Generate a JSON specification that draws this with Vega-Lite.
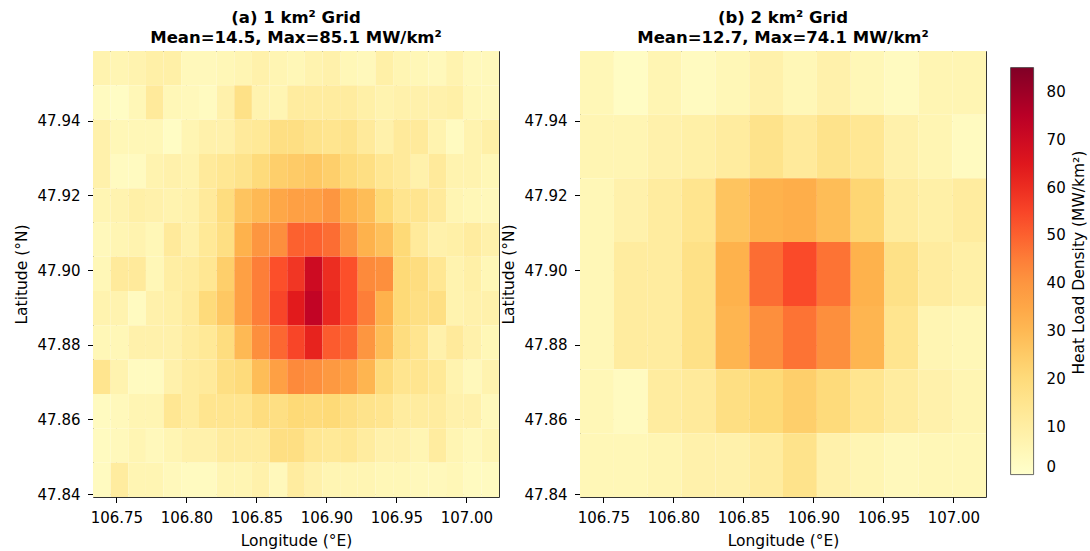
{
"$schema": "https://vega.github.io/schema/vega-lite/v6.json",
"background": "white",
"padding": {"left": 13, "top": 9, "right": 2, "bottom": 2},
"spacing": 0,
"hconcat": [
{
"width": 406, "height": 446,
"title": {"text": ["(a) 1 km² Grid", "Mean=14.5, Max=85.1 MW/km²"]},
"data": {"values": [
{"lon0":106.7333,"lon1":106.7459,"lat0":47.9495,"lat1":47.9587,"v":7},{"lon0":106.7459,"lon1":106.7585,"lat0":47.9495,"lat1":47.9587,"v":6},{"lon0":106.7585,"lon1":106.7711,"lat0":47.9495,"lat1":47.9587,"v":7},{"lon0":106.7711,"lon1":106.7837,"lat0":47.9495,"lat1":47.9587,"v":9},{"lon0":106.7837,"lon1":106.7963,"lat0":47.9495,"lat1":47.9587,"v":9},{"lon0":106.7963,"lon1":106.809,"lat0":47.9495,"lat1":47.9587,"v":4},{"lon0":106.809,"lon1":106.8216,"lat0":47.9495,"lat1":47.9587,"v":4},{"lon0":106.8216,"lon1":106.8342,"lat0":47.9495,"lat1":47.9587,"v":5},{"lon0":106.8342,"lon1":106.8468,"lat0":47.9495,"lat1":47.9587,"v":6},{"lon0":106.8468,"lon1":106.8594,"lat0":47.9495,"lat1":47.9587,"v":8},{"lon0":106.8594,"lon1":106.872,"lat0":47.9495,"lat1":47.9587,"v":6},{"lon0":106.872,"lon1":106.8846,"lat0":47.9495,"lat1":47.9587,"v":5},{"lon0":106.8846,"lon1":106.8972,"lat0":47.9495,"lat1":47.9587,"v":7},{"lon0":106.8972,"lon1":106.9098,"lat0":47.9495,"lat1":47.9587,"v":8},{"lon0":106.9098,"lon1":106.9224,"lat0":47.9495,"lat1":47.9587,"v":5},{"lon0":106.9224,"lon1":106.935,"lat0":47.9495,"lat1":47.9587,"v":4},{"lon0":106.935,"lon1":106.9477,"lat0":47.9495,"lat1":47.9587,"v":9},{"lon0":106.9477,"lon1":106.9603,"lat0":47.9495,"lat1":47.9587,"v":6},{"lon0":106.9603,"lon1":106.9729,"lat0":47.9495,"lat1":47.9587,"v":5},{"lon0":106.9729,"lon1":106.9855,"lat0":47.9495,"lat1":47.9587,"v":4},{"lon0":106.9855,"lon1":106.9981,"lat0":47.9495,"lat1":47.9587,"v":7},{"lon0":106.9981,"lon1":107.0107,"lat0":47.9495,"lat1":47.9587,"v":4},{"lon0":107.0107,"lon1":107.0233,"lat0":47.9495,"lat1":47.9587,"v":4},
{"lon0":106.7333,"lon1":106.7459,"lat0":47.9403,"lat1":47.9495,"v":3},{"lon0":106.7459,"lon1":106.7585,"lat0":47.9403,"lat1":47.9495,"v":2},{"lon0":106.7585,"lon1":106.7711,"lat0":47.9403,"lat1":47.9495,"v":5},{"lon0":106.7711,"lon1":106.7837,"lat0":47.9403,"lat1":47.9495,"v":12},{"lon0":106.7837,"lon1":106.7963,"lat0":47.9403,"lat1":47.9495,"v":5},{"lon0":106.7963,"lon1":106.809,"lat0":47.9403,"lat1":47.9495,"v":4},{"lon0":106.809,"lon1":106.8216,"lat0":47.9403,"lat1":47.9495,"v":3},{"lon0":106.8216,"lon1":106.8342,"lat0":47.9403,"lat1":47.9495,"v":8},{"lon0":106.8342,"lon1":106.8468,"lat0":47.9403,"lat1":47.9495,"v":17},{"lon0":106.8468,"lon1":106.8594,"lat0":47.9403,"lat1":47.9495,"v":7},{"lon0":106.8594,"lon1":106.872,"lat0":47.9403,"lat1":47.9495,"v":6},{"lon0":106.872,"lon1":106.8846,"lat0":47.9403,"lat1":47.9495,"v":11},{"lon0":106.8846,"lon1":106.8972,"lat0":47.9403,"lat1":47.9495,"v":11},{"lon0":106.8972,"lon1":106.9098,"lat0":47.9403,"lat1":47.9495,"v":11},{"lon0":106.9098,"lon1":106.9224,"lat0":47.9403,"lat1":47.9495,"v":11},{"lon0":106.9224,"lon1":106.935,"lat0":47.9403,"lat1":47.9495,"v":9},{"lon0":106.935,"lon1":106.9477,"lat0":47.9403,"lat1":47.9495,"v":7},{"lon0":106.9477,"lon1":106.9603,"lat0":47.9403,"lat1":47.9495,"v":8},{"lon0":106.9603,"lon1":106.9729,"lat0":47.9403,"lat1":47.9495,"v":8},{"lon0":106.9729,"lon1":106.9855,"lat0":47.9403,"lat1":47.9495,"v":8},{"lon0":106.9855,"lon1":106.9981,"lat0":47.9403,"lat1":47.9495,"v":9},{"lon0":106.9981,"lon1":107.0107,"lat0":47.9403,"lat1":47.9495,"v":5},{"lon0":107.0107,"lon1":107.0233,"lat0":47.9403,"lat1":47.9495,"v":4},
{"lon0":106.7333,"lon1":106.7459,"lat0":47.9311,"lat1":47.9403,"v":8},{"lon0":106.7459,"lon1":106.7585,"lat0":47.9311,"lat1":47.9403,"v":5},{"lon0":106.7585,"lon1":106.7711,"lat0":47.9311,"lat1":47.9403,"v":5},{"lon0":106.7711,"lon1":106.7837,"lat0":47.9311,"lat1":47.9403,"v":5},{"lon0":106.7837,"lon1":106.7963,"lat0":47.9311,"lat1":47.9403,"v":2},{"lon0":106.7963,"lon1":106.809,"lat0":47.9311,"lat1":47.9403,"v":6},{"lon0":106.809,"lon1":106.8216,"lat0":47.9311,"lat1":47.9403,"v":8},{"lon0":106.8216,"lon1":106.8342,"lat0":47.9311,"lat1":47.9403,"v":8},{"lon0":106.8342,"lon1":106.8468,"lat0":47.9311,"lat1":47.9403,"v":12},{"lon0":106.8468,"lon1":106.8594,"lat0":47.9311,"lat1":47.9403,"v":13},{"lon0":106.8594,"lon1":106.872,"lat0":47.9311,"lat1":47.9403,"v":18},{"lon0":106.872,"lon1":106.8846,"lat0":47.9311,"lat1":47.9403,"v":18},{"lon0":106.8846,"lon1":106.8972,"lat0":47.9311,"lat1":47.9403,"v":16},{"lon0":106.8972,"lon1":106.9098,"lat0":47.9311,"lat1":47.9403,"v":15},{"lon0":106.9098,"lon1":106.9224,"lat0":47.9311,"lat1":47.9403,"v":16},{"lon0":106.9224,"lon1":106.935,"lat0":47.9311,"lat1":47.9403,"v":12},{"lon0":106.935,"lon1":106.9477,"lat0":47.9311,"lat1":47.9403,"v":8},{"lon0":106.9477,"lon1":106.9603,"lat0":47.9311,"lat1":47.9403,"v":12},{"lon0":106.9603,"lon1":106.9729,"lat0":47.9311,"lat1":47.9403,"v":12},{"lon0":106.9729,"lon1":106.9855,"lat0":47.9311,"lat1":47.9403,"v":7},{"lon0":106.9855,"lon1":106.9981,"lat0":47.9311,"lat1":47.9403,"v":3},{"lon0":106.9981,"lon1":107.0107,"lat0":47.9311,"lat1":47.9403,"v":7},{"lon0":107.0107,"lon1":107.0233,"lat0":47.9311,"lat1":47.9403,"v":9},
{"lon0":106.7333,"lon1":106.7459,"lat0":47.9219,"lat1":47.9311,"v":8},{"lon0":106.7459,"lon1":106.7585,"lat0":47.9219,"lat1":47.9311,"v":3},{"lon0":106.7585,"lon1":106.7711,"lat0":47.9219,"lat1":47.9311,"v":3},{"lon0":106.7711,"lon1":106.7837,"lat0":47.9219,"lat1":47.9311,"v":7},{"lon0":106.7837,"lon1":106.7963,"lat0":47.9219,"lat1":47.9311,"v":8},{"lon0":106.7963,"lon1":106.809,"lat0":47.9219,"lat1":47.9311,"v":7},{"lon0":106.809,"lon1":106.8216,"lat0":47.9219,"lat1":47.9311,"v":12},{"lon0":106.8216,"lon1":106.8342,"lat0":47.9219,"lat1":47.9311,"v":14},{"lon0":106.8342,"lon1":106.8468,"lat0":47.9219,"lat1":47.9311,"v":16},{"lon0":106.8468,"lon1":106.8594,"lat0":47.9219,"lat1":47.9311,"v":20},{"lon0":106.8594,"lon1":106.872,"lat0":47.9219,"lat1":47.9311,"v":24},{"lon0":106.872,"lon1":106.8846,"lat0":47.9219,"lat1":47.9311,"v":25},{"lon0":106.8846,"lon1":106.8972,"lat0":47.9219,"lat1":47.9311,"v":26},{"lon0":106.8972,"lon1":106.9098,"lat0":47.9219,"lat1":47.9311,"v":24},{"lon0":106.9098,"lon1":106.9224,"lat0":47.9219,"lat1":47.9311,"v":20},{"lon0":106.9224,"lon1":106.935,"lat0":47.9219,"lat1":47.9311,"v":18},{"lon0":106.935,"lon1":106.9477,"lat0":47.9219,"lat1":47.9311,"v":14},{"lon0":106.9477,"lon1":106.9603,"lat0":47.9219,"lat1":47.9311,"v":12},{"lon0":106.9603,"lon1":106.9729,"lat0":47.9219,"lat1":47.9311,"v":8},{"lon0":106.9729,"lon1":106.9855,"lat0":47.9219,"lat1":47.9311,"v":12},{"lon0":106.9855,"lon1":106.9981,"lat0":47.9219,"lat1":47.9311,"v":7},{"lon0":106.9981,"lon1":107.0107,"lat0":47.9219,"lat1":47.9311,"v":7},{"lon0":107.0107,"lon1":107.0233,"lat0":47.9219,"lat1":47.9311,"v":5},
{"lon0":106.7333,"lon1":106.7459,"lat0":47.9127,"lat1":47.9219,"v":6},{"lon0":106.7459,"lon1":106.7585,"lat0":47.9127,"lat1":47.9219,"v":7},{"lon0":106.7585,"lon1":106.7711,"lat0":47.9127,"lat1":47.9219,"v":9},{"lon0":106.7711,"lon1":106.7837,"lat0":47.9127,"lat1":47.9219,"v":8},{"lon0":106.7837,"lon1":106.7963,"lat0":47.9127,"lat1":47.9219,"v":7},{"lon0":106.7963,"lon1":106.809,"lat0":47.9127,"lat1":47.9219,"v":8},{"lon0":106.809,"lon1":106.8216,"lat0":47.9127,"lat1":47.9219,"v":12},{"lon0":106.8216,"lon1":106.8342,"lat0":47.9127,"lat1":47.9219,"v":19},{"lon0":106.8342,"lon1":106.8468,"lat0":47.9127,"lat1":47.9219,"v":27},{"lon0":106.8468,"lon1":106.8594,"lat0":47.9127,"lat1":47.9219,"v":30},{"lon0":106.8594,"lon1":106.872,"lat0":47.9127,"lat1":47.9219,"v":35},{"lon0":106.872,"lon1":106.8846,"lat0":47.9127,"lat1":47.9219,"v":37},{"lon0":106.8846,"lon1":106.8972,"lat0":47.9127,"lat1":47.9219,"v":37},{"lon0":106.8972,"lon1":106.9098,"lat0":47.9127,"lat1":47.9219,"v":40},{"lon0":106.9098,"lon1":106.9224,"lat0":47.9127,"lat1":47.9219,"v":32},{"lon0":106.9224,"lon1":106.935,"lat0":47.9127,"lat1":47.9219,"v":29},{"lon0":106.935,"lon1":106.9477,"lat0":47.9127,"lat1":47.9219,"v":21},{"lon0":106.9477,"lon1":106.9603,"lat0":47.9127,"lat1":47.9219,"v":15},{"lon0":106.9603,"lon1":106.9729,"lat0":47.9127,"lat1":47.9219,"v":15},{"lon0":106.9729,"lon1":106.9855,"lat0":47.9127,"lat1":47.9219,"v":12},{"lon0":106.9855,"lon1":106.9981,"lat0":47.9127,"lat1":47.9219,"v":6},{"lon0":106.9981,"lon1":107.0107,"lat0":47.9127,"lat1":47.9219,"v":5},{"lon0":107.0107,"lon1":107.0233,"lat0":47.9127,"lat1":47.9219,"v":4},
{"lon0":106.7333,"lon1":106.7459,"lat0":47.9036,"lat1":47.9127,"v":4},{"lon0":106.7459,"lon1":106.7585,"lat0":47.9036,"lat1":47.9127,"v":6},{"lon0":106.7585,"lon1":106.7711,"lat0":47.9036,"lat1":47.9127,"v":7},{"lon0":106.7711,"lon1":106.7837,"lat0":47.9036,"lat1":47.9127,"v":5},{"lon0":106.7837,"lon1":106.7963,"lat0":47.9036,"lat1":47.9127,"v":12},{"lon0":106.7963,"lon1":106.809,"lat0":47.9036,"lat1":47.9127,"v":8},{"lon0":106.809,"lon1":106.8216,"lat0":47.9036,"lat1":47.9127,"v":13},{"lon0":106.8216,"lon1":106.8342,"lat0":47.9036,"lat1":47.9127,"v":18},{"lon0":106.8342,"lon1":106.8468,"lat0":47.9036,"lat1":47.9127,"v":32},{"lon0":106.8468,"lon1":106.8594,"lat0":47.9036,"lat1":47.9127,"v":40},{"lon0":106.8594,"lon1":106.872,"lat0":47.9036,"lat1":47.9127,"v":42},{"lon0":106.872,"lon1":106.8846,"lat0":47.9036,"lat1":47.9127,"v":50},{"lon0":106.8846,"lon1":106.8972,"lat0":47.9036,"lat1":47.9127,"v":50},{"lon0":106.8972,"lon1":106.9098,"lat0":47.9036,"lat1":47.9127,"v":48},{"lon0":106.9098,"lon1":106.9224,"lat0":47.9036,"lat1":47.9127,"v":40},{"lon0":106.9224,"lon1":106.935,"lat0":47.9036,"lat1":47.9127,"v":32},{"lon0":106.935,"lon1":106.9477,"lat0":47.9036,"lat1":47.9127,"v":28},{"lon0":106.9477,"lon1":106.9603,"lat0":47.9036,"lat1":47.9127,"v":21},{"lon0":106.9603,"lon1":106.9729,"lat0":47.9036,"lat1":47.9127,"v":12},{"lon0":106.9729,"lon1":106.9855,"lat0":47.9036,"lat1":47.9127,"v":8},{"lon0":106.9855,"lon1":106.9981,"lat0":47.9036,"lat1":47.9127,"v":9},{"lon0":106.9981,"lon1":107.0107,"lat0":47.9036,"lat1":47.9127,"v":11},{"lon0":107.0107,"lon1":107.0233,"lat0":47.9036,"lat1":47.9127,"v":8},
{"lon0":106.7333,"lon1":106.7459,"lat0":47.8944,"lat1":47.9036,"v":5},{"lon0":106.7459,"lon1":106.7585,"lat0":47.8944,"lat1":47.9036,"v":12},{"lon0":106.7585,"lon1":106.7711,"lat0":47.8944,"lat1":47.9036,"v":12},{"lon0":106.7711,"lon1":106.7837,"lat0":47.8944,"lat1":47.9036,"v":5},{"lon0":106.7837,"lon1":106.7963,"lat0":47.8944,"lat1":47.9036,"v":10},{"lon0":106.7963,"lon1":106.809,"lat0":47.8944,"lat1":47.9036,"v":11},{"lon0":106.809,"lon1":106.8216,"lat0":47.8944,"lat1":47.9036,"v":14},{"lon0":106.8216,"lon1":106.8342,"lat0":47.8944,"lat1":47.9036,"v":24},{"lon0":106.8342,"lon1":106.8468,"lat0":47.8944,"lat1":47.9036,"v":37},{"lon0":106.8468,"lon1":106.8594,"lat0":47.8944,"lat1":47.9036,"v":45},{"lon0":106.8594,"lon1":106.872,"lat0":47.8944,"lat1":47.9036,"v":53},{"lon0":106.872,"lon1":106.8846,"lat0":47.8944,"lat1":47.9036,"v":58},{"lon0":106.8846,"lon1":106.8972,"lat0":47.8944,"lat1":47.9036,"v":70},{"lon0":106.8972,"lon1":106.9098,"lat0":47.8944,"lat1":47.9036,"v":60},{"lon0":106.9098,"lon1":106.9224,"lat0":47.8944,"lat1":47.9036,"v":53},{"lon0":106.9224,"lon1":106.935,"lat0":47.8944,"lat1":47.9036,"v":43},{"lon0":106.935,"lon1":106.9477,"lat0":47.8944,"lat1":47.9036,"v":42},{"lon0":106.9477,"lon1":106.9603,"lat0":47.8944,"lat1":47.9036,"v":21},{"lon0":106.9603,"lon1":106.9729,"lat0":47.8944,"lat1":47.9036,"v":19},{"lon0":106.9729,"lon1":106.9855,"lat0":47.8944,"lat1":47.9036,"v":14},{"lon0":106.9855,"lon1":106.9981,"lat0":47.8944,"lat1":47.9036,"v":7},{"lon0":106.9981,"lon1":107.0107,"lat0":47.8944,"lat1":47.9036,"v":9},{"lon0":107.0107,"lon1":107.0233,"lat0":47.8944,"lat1":47.9036,"v":5},
{"lon0":106.7333,"lon1":106.7459,"lat0":47.8852,"lat1":47.8944,"v":7},{"lon0":106.7459,"lon1":106.7585,"lat0":47.8852,"lat1":47.8944,"v":7},{"lon0":106.7585,"lon1":106.7711,"lat0":47.8852,"lat1":47.8944,"v":3},{"lon0":106.7711,"lon1":106.7837,"lat0":47.8852,"lat1":47.8944,"v":8},{"lon0":106.7837,"lon1":106.7963,"lat0":47.8852,"lat1":47.8944,"v":9},{"lon0":106.7963,"lon1":106.809,"lat0":47.8852,"lat1":47.8944,"v":12},{"lon0":106.809,"lon1":106.8216,"lat0":47.8852,"lat1":47.8944,"v":20},{"lon0":106.8216,"lon1":106.8342,"lat0":47.8852,"lat1":47.8944,"v":26},{"lon0":106.8342,"lon1":106.8468,"lat0":47.8852,"lat1":47.8944,"v":37},{"lon0":106.8468,"lon1":106.8594,"lat0":47.8852,"lat1":47.8944,"v":45},{"lon0":106.8594,"lon1":106.872,"lat0":47.8852,"lat1":47.8944,"v":55},{"lon0":106.872,"lon1":106.8846,"lat0":47.8852,"lat1":47.8944,"v":64},{"lon0":106.8846,"lon1":106.8972,"lat0":47.8852,"lat1":47.8944,"v":73},{"lon0":106.8972,"lon1":106.9098,"lat0":47.8852,"lat1":47.8944,"v":61},{"lon0":106.9098,"lon1":106.9224,"lat0":47.8852,"lat1":47.8944,"v":53},{"lon0":106.9224,"lon1":106.935,"lat0":47.8852,"lat1":47.8944,"v":45},{"lon0":106.935,"lon1":106.9477,"lat0":47.8852,"lat1":47.8944,"v":32},{"lon0":106.9477,"lon1":106.9603,"lat0":47.8852,"lat1":47.8944,"v":21},{"lon0":106.9603,"lon1":106.9729,"lat0":47.8852,"lat1":47.8944,"v":18},{"lon0":106.9729,"lon1":106.9855,"lat0":47.8852,"lat1":47.8944,"v":18},{"lon0":106.9855,"lon1":106.9981,"lat0":47.8852,"lat1":47.8944,"v":7},{"lon0":106.9981,"lon1":107.0107,"lat0":47.8852,"lat1":47.8944,"v":8},{"lon0":107.0107,"lon1":107.0233,"lat0":47.8852,"lat1":47.8944,"v":8},
{"lon0":106.7333,"lon1":106.7459,"lat0":47.876,"lat1":47.8852,"v":5},{"lon0":106.7459,"lon1":106.7585,"lat0":47.876,"lat1":47.8852,"v":5},{"lon0":106.7585,"lon1":106.7711,"lat0":47.876,"lat1":47.8852,"v":8},{"lon0":106.7711,"lon1":106.7837,"lat0":47.876,"lat1":47.8852,"v":8},{"lon0":106.7837,"lon1":106.7963,"lat0":47.876,"lat1":47.8852,"v":8},{"lon0":106.7963,"lon1":106.809,"lat0":47.876,"lat1":47.8852,"v":11},{"lon0":106.809,"lon1":106.8216,"lat0":47.876,"lat1":47.8852,"v":13},{"lon0":106.8216,"lon1":106.8342,"lat0":47.876,"lat1":47.8852,"v":19},{"lon0":106.8342,"lon1":106.8468,"lat0":47.876,"lat1":47.8852,"v":30},{"lon0":106.8468,"lon1":106.8594,"lat0":47.876,"lat1":47.8852,"v":42},{"lon0":106.8594,"lon1":106.872,"lat0":47.876,"lat1":47.8852,"v":49},{"lon0":106.872,"lon1":106.8846,"lat0":47.876,"lat1":47.8852,"v":55},{"lon0":106.8846,"lon1":106.8972,"lat0":47.876,"lat1":47.8852,"v":62},{"lon0":106.8972,"lon1":106.9098,"lat0":47.876,"lat1":47.8852,"v":51},{"lon0":106.9098,"lon1":106.9224,"lat0":47.876,"lat1":47.8852,"v":49},{"lon0":106.9224,"lon1":106.935,"lat0":47.876,"lat1":47.8852,"v":40},{"lon0":106.935,"lon1":106.9477,"lat0":47.876,"lat1":47.8852,"v":29},{"lon0":106.9477,"lon1":106.9603,"lat0":47.876,"lat1":47.8852,"v":19},{"lon0":106.9603,"lon1":106.9729,"lat0":47.876,"lat1":47.8852,"v":15},{"lon0":106.9729,"lon1":106.9855,"lat0":47.876,"lat1":47.8852,"v":8},{"lon0":106.9855,"lon1":106.9981,"lat0":47.876,"lat1":47.8852,"v":12},{"lon0":106.9981,"lon1":107.0107,"lat0":47.876,"lat1":47.8852,"v":8},{"lon0":107.0107,"lon1":107.0233,"lat0":47.876,"lat1":47.8852,"v":5},
{"lon0":106.7333,"lon1":106.7459,"lat0":47.8668,"lat1":47.876,"v":15},{"lon0":106.7459,"lon1":106.7585,"lat0":47.8668,"lat1":47.876,"v":7},{"lon0":106.7585,"lon1":106.7711,"lat0":47.8668,"lat1":47.876,"v":3},{"lon0":106.7711,"lon1":106.7837,"lat0":47.8668,"lat1":47.876,"v":3},{"lon0":106.7837,"lon1":106.7963,"lat0":47.8668,"lat1":47.876,"v":8},{"lon0":106.7963,"lon1":106.809,"lat0":47.8668,"lat1":47.876,"v":11},{"lon0":106.809,"lon1":106.8216,"lat0":47.8668,"lat1":47.876,"v":12},{"lon0":106.8216,"lon1":106.8342,"lat0":47.8668,"lat1":47.876,"v":18},{"lon0":106.8342,"lon1":106.8468,"lat0":47.8668,"lat1":47.876,"v":20},{"lon0":106.8468,"lon1":106.8594,"lat0":47.8668,"lat1":47.876,"v":29},{"lon0":106.8594,"lon1":106.872,"lat0":47.8668,"lat1":47.876,"v":37},{"lon0":106.872,"lon1":106.8846,"lat0":47.8668,"lat1":47.876,"v":43},{"lon0":106.8846,"lon1":106.8972,"lat0":47.8668,"lat1":47.876,"v":42},{"lon0":106.8972,"lon1":106.9098,"lat0":47.8668,"lat1":47.876,"v":39},{"lon0":106.9098,"lon1":106.9224,"lat0":47.8668,"lat1":47.876,"v":37},{"lon0":106.9224,"lon1":106.935,"lat0":47.8668,"lat1":47.876,"v":31},{"lon0":106.935,"lon1":106.9477,"lat0":47.8668,"lat1":47.876,"v":20},{"lon0":106.9477,"lon1":106.9603,"lat0":47.8668,"lat1":47.876,"v":15},{"lon0":106.9603,"lon1":106.9729,"lat0":47.8668,"lat1":47.876,"v":15},{"lon0":106.9729,"lon1":106.9855,"lat0":47.8668,"lat1":47.876,"v":13},{"lon0":106.9855,"lon1":106.9981,"lat0":47.8668,"lat1":47.876,"v":7},{"lon0":106.9981,"lon1":107.0107,"lat0":47.8668,"lat1":47.876,"v":4},{"lon0":107.0107,"lon1":107.0233,"lat0":47.8668,"lat1":47.876,"v":7},
{"lon0":106.7333,"lon1":106.7459,"lat0":47.8576,"lat1":47.8668,"v":3},{"lon0":106.7459,"lon1":106.7585,"lat0":47.8576,"lat1":47.8668,"v":4},{"lon0":106.7585,"lon1":106.7711,"lat0":47.8576,"lat1":47.8668,"v":6},{"lon0":106.7711,"lon1":106.7837,"lat0":47.8576,"lat1":47.8668,"v":6},{"lon0":106.7837,"lon1":106.7963,"lat0":47.8576,"lat1":47.8668,"v":14},{"lon0":106.7963,"lon1":106.809,"lat0":47.8576,"lat1":47.8668,"v":11},{"lon0":106.809,"lon1":106.8216,"lat0":47.8576,"lat1":47.8668,"v":15},{"lon0":106.8216,"lon1":106.8342,"lat0":47.8576,"lat1":47.8668,"v":15},{"lon0":106.8342,"lon1":106.8468,"lat0":47.8576,"lat1":47.8668,"v":15},{"lon0":106.8468,"lon1":106.8594,"lat0":47.8576,"lat1":47.8668,"v":19},{"lon0":106.8594,"lon1":106.872,"lat0":47.8576,"lat1":47.8668,"v":18},{"lon0":106.872,"lon1":106.8846,"lat0":47.8576,"lat1":47.8668,"v":21},{"lon0":106.8846,"lon1":106.8972,"lat0":47.8576,"lat1":47.8668,"v":20},{"lon0":106.8972,"lon1":106.9098,"lat0":47.8576,"lat1":47.8668,"v":21},{"lon0":106.9098,"lon1":106.9224,"lat0":47.8576,"lat1":47.8668,"v":18},{"lon0":106.9224,"lon1":106.935,"lat0":47.8576,"lat1":47.8668,"v":16},{"lon0":106.935,"lon1":106.9477,"lat0":47.8576,"lat1":47.8668,"v":15},{"lon0":106.9477,"lon1":106.9603,"lat0":47.8576,"lat1":47.8668,"v":11},{"lon0":106.9603,"lon1":106.9729,"lat0":47.8576,"lat1":47.8668,"v":11},{"lon0":106.9729,"lon1":106.9855,"lat0":47.8576,"lat1":47.8668,"v":11},{"lon0":106.9855,"lon1":106.9981,"lat0":47.8576,"lat1":47.8668,"v":8},{"lon0":106.9981,"lon1":107.0107,"lat0":47.8576,"lat1":47.8668,"v":8},{"lon0":107.0107,"lon1":107.0233,"lat0":47.8576,"lat1":47.8668,"v":4},
{"lon0":106.7333,"lon1":106.7459,"lat0":47.8484,"lat1":47.8576,"v":3},{"lon0":106.7459,"lon1":106.7585,"lat0":47.8484,"lat1":47.8576,"v":4},{"lon0":106.7585,"lon1":106.7711,"lat0":47.8484,"lat1":47.8576,"v":6},{"lon0":106.7711,"lon1":106.7837,"lat0":47.8484,"lat1":47.8576,"v":4},{"lon0":106.7837,"lon1":106.7963,"lat0":47.8484,"lat1":47.8576,"v":6},{"lon0":106.7963,"lon1":106.809,"lat0":47.8484,"lat1":47.8576,"v":8},{"lon0":106.809,"lon1":106.8216,"lat0":47.8484,"lat1":47.8576,"v":8},{"lon0":106.8216,"lon1":106.8342,"lat0":47.8484,"lat1":47.8576,"v":11},{"lon0":106.8342,"lon1":106.8468,"lat0":47.8484,"lat1":47.8576,"v":11},{"lon0":106.8468,"lon1":106.8594,"lat0":47.8484,"lat1":47.8576,"v":11},{"lon0":106.8594,"lon1":106.872,"lat0":47.8484,"lat1":47.8576,"v":18},{"lon0":106.872,"lon1":106.8846,"lat0":47.8484,"lat1":47.8576,"v":18},{"lon0":106.8846,"lon1":106.8972,"lat0":47.8484,"lat1":47.8576,"v":14},{"lon0":106.8972,"lon1":106.9098,"lat0":47.8484,"lat1":47.8576,"v":13},{"lon0":106.9098,"lon1":106.9224,"lat0":47.8484,"lat1":47.8576,"v":14},{"lon0":106.9224,"lon1":106.935,"lat0":47.8484,"lat1":47.8576,"v":11},{"lon0":106.935,"lon1":106.9477,"lat0":47.8484,"lat1":47.8576,"v":8},{"lon0":106.9477,"lon1":106.9603,"lat0":47.8484,"lat1":47.8576,"v":8},{"lon0":106.9603,"lon1":106.9729,"lat0":47.8484,"lat1":47.8576,"v":6},{"lon0":106.9729,"lon1":106.9855,"lat0":47.8484,"lat1":47.8576,"v":11},{"lon0":106.9855,"lon1":106.9981,"lat0":47.8484,"lat1":47.8576,"v":6},{"lon0":106.9981,"lon1":107.0107,"lat0":47.8484,"lat1":47.8576,"v":4},{"lon0":107.0107,"lon1":107.0233,"lat0":47.8484,"lat1":47.8576,"v":6},
{"lon0":106.7333,"lon1":106.7459,"lat0":47.8392,"lat1":47.8484,"v":3},{"lon0":106.7459,"lon1":106.7585,"lat0":47.8392,"lat1":47.8484,"v":11},{"lon0":106.7585,"lon1":106.7711,"lat0":47.8392,"lat1":47.8484,"v":6},{"lon0":106.7711,"lon1":106.7837,"lat0":47.8392,"lat1":47.8484,"v":6},{"lon0":106.7837,"lon1":106.7963,"lat0":47.8392,"lat1":47.8484,"v":4},{"lon0":106.7963,"lon1":106.809,"lat0":47.8392,"lat1":47.8484,"v":3},{"lon0":106.809,"lon1":106.8216,"lat0":47.8392,"lat1":47.8484,"v":3},{"lon0":106.8216,"lon1":106.8342,"lat0":47.8392,"lat1":47.8484,"v":6},{"lon0":106.8342,"lon1":106.8468,"lat0":47.8392,"lat1":47.8484,"v":6},{"lon0":106.8468,"lon1":106.8594,"lat0":47.8392,"lat1":47.8484,"v":8},{"lon0":106.8594,"lon1":106.872,"lat0":47.8392,"lat1":47.8484,"v":4},{"lon0":106.872,"lon1":106.8846,"lat0":47.8392,"lat1":47.8484,"v":11},{"lon0":106.8846,"lon1":106.8972,"lat0":47.8392,"lat1":47.8484,"v":8},{"lon0":106.8972,"lon1":106.9098,"lat0":47.8392,"lat1":47.8484,"v":6},{"lon0":106.9098,"lon1":106.9224,"lat0":47.8392,"lat1":47.8484,"v":6},{"lon0":106.9224,"lon1":106.935,"lat0":47.8392,"lat1":47.8484,"v":6},{"lon0":106.935,"lon1":106.9477,"lat0":47.8392,"lat1":47.8484,"v":5},{"lon0":106.9477,"lon1":106.9603,"lat0":47.8392,"lat1":47.8484,"v":5},{"lon0":106.9603,"lon1":106.9729,"lat0":47.8392,"lat1":47.8484,"v":4},{"lon0":106.9729,"lon1":106.9855,"lat0":47.8392,"lat1":47.8484,"v":4},{"lon0":106.9855,"lon1":106.9981,"lat0":47.8392,"lat1":47.8484,"v":5},{"lon0":106.9981,"lon1":107.0107,"lat0":47.8392,"lat1":47.8484,"v":3},{"lon0":107.0107,"lon1":107.0233,"lat0":47.8392,"lat1":47.8484,"v":3}
]},
"mark": {"type": "rect", "clip": true},
"encoding": {
"x": {"field": "lon0", "type": "quantitative", "scale": {"domain": [106.7333, 107.0233], "nice": false, "zero": false}, "axis": {"values": [106.75, 106.8, 106.85, 106.9, 106.95, 107.0], "format": ".2f", "title": "Longitude (°E)"}},
"x2": {"field": "lon1"},
"y": {"field": "lat0", "type": "quantitative", "scale": {"domain": [47.8392, 47.9587], "nice": false, "zero": false}, "axis": {"values": [47.84, 47.86, 47.88, 47.9, 47.92, 47.94], "format": ".2f", "title": "Latitude (°N)"}},
"y2": {"field": "lat1"},
"color": {"field": "v", "type": "quantitative", "scale": {"domain": [0, 10.6375, 21.275, 31.9125, 42.55, 53.1875, 63.825, 74.4625, 85.1], "range": ["#ffffcc", "#ffeda0", "#fed976", "#feb24c", "#fd8d3c", "#fc4e2a", "#e31a1c", "#bd0026", "#800026"], "interpolate": "rgb"}, "legend": {"type": "gradient", "direction": "vertical", "title": "Heat Load Density (MW/km²)", "values": [0, 10, 20, 30, 40, 50, 60, 70, 80], "labelOffset": 13, "labelBaseline": "middle", "encode": {"title": {"update": {"angle": {"value": 270}, "baseline": {"value": "top"}}}}}}
}
},
{
"width": 406, "height": 446,
"title": {"text": ["(b) 2 km² Grid", "Mean=12.7, Max=74.1 MW/km²"]},
"data": {"values": [
{"lon0":106.7333,"lon1":106.7575,"lat0":47.9416,"lat1":47.9587,"v":5},{"lon0":106.7575,"lon1":106.7817,"lat0":47.9416,"lat1":47.9587,"v":2},{"lon0":106.7817,"lon1":106.8058,"lat0":47.9416,"lat1":47.9587,"v":6},{"lon0":106.8058,"lon1":106.83,"lat0":47.9416,"lat1":47.9587,"v":3},{"lon0":106.83,"lon1":106.8542,"lat0":47.9416,"lat1":47.9587,"v":5},{"lon0":106.8542,"lon1":106.8783,"lat0":47.9416,"lat1":47.9587,"v":8},{"lon0":106.8783,"lon1":106.9025,"lat0":47.9416,"lat1":47.9587,"v":5},{"lon0":106.9025,"lon1":106.9267,"lat0":47.9416,"lat1":47.9587,"v":8},{"lon0":106.9267,"lon1":106.9508,"lat0":47.9416,"lat1":47.9587,"v":5},{"lon0":106.9508,"lon1":106.975,"lat0":47.9416,"lat1":47.9587,"v":3},{"lon0":106.975,"lon1":106.9992,"lat0":47.9416,"lat1":47.9587,"v":6},{"lon0":106.9992,"lon1":107.0233,"lat0":47.9416,"lat1":47.9587,"v":6},
{"lon0":106.7333,"lon1":106.7575,"lat0":47.9246,"lat1":47.9416,"v":6},{"lon0":106.7575,"lon1":106.7817,"lat0":47.9246,"lat1":47.9416,"v":6},{"lon0":106.7817,"lon1":106.8058,"lat0":47.9246,"lat1":47.9416,"v":8},{"lon0":106.8058,"lon1":106.83,"lat0":47.9246,"lat1":47.9416,"v":9},{"lon0":106.83,"lon1":106.8542,"lat0":47.9246,"lat1":47.9416,"v":11},{"lon0":106.8542,"lon1":106.8783,"lat0":47.9246,"lat1":47.9416,"v":16},{"lon0":106.8783,"lon1":106.9025,"lat0":47.9246,"lat1":47.9416,"v":12},{"lon0":106.9025,"lon1":106.9267,"lat0":47.9246,"lat1":47.9416,"v":16},{"lon0":106.9267,"lon1":106.9508,"lat0":47.9246,"lat1":47.9416,"v":14},{"lon0":106.9508,"lon1":106.975,"lat0":47.9246,"lat1":47.9416,"v":8},{"lon0":106.975,"lon1":106.9992,"lat0":47.9246,"lat1":47.9416,"v":6},{"lon0":106.9992,"lon1":107.0233,"lat0":47.9246,"lat1":47.9416,"v":3},
{"lon0":106.7333,"lon1":106.7575,"lat0":47.9075,"lat1":47.9246,"v":5},{"lon0":106.7575,"lon1":106.7817,"lat0":47.9075,"lat1":47.9246,"v":8},{"lon0":106.7817,"lon1":106.8058,"lat0":47.9075,"lat1":47.9246,"v":11},{"lon0":106.8058,"lon1":106.83,"lat0":47.9075,"lat1":47.9246,"v":15},{"lon0":106.83,"lon1":106.8542,"lat0":47.9075,"lat1":47.9246,"v":27},{"lon0":106.8542,"lon1":106.8783,"lat0":47.9075,"lat1":47.9246,"v":32},{"lon0":106.8783,"lon1":106.9025,"lat0":47.9075,"lat1":47.9246,"v":33},{"lon0":106.9025,"lon1":106.9267,"lat0":47.9075,"lat1":47.9246,"v":29},{"lon0":106.9267,"lon1":106.9508,"lat0":47.9075,"lat1":47.9246,"v":22},{"lon0":106.9508,"lon1":106.975,"lat0":47.9075,"lat1":47.9246,"v":11},{"lon0":106.975,"lon1":106.9992,"lat0":47.9075,"lat1":47.9246,"v":9},{"lon0":106.9992,"lon1":107.0233,"lat0":47.9075,"lat1":47.9246,"v":11},
{"lon0":106.7333,"lon1":106.7575,"lat0":47.8904,"lat1":47.9075,"v":5},{"lon0":106.7575,"lon1":106.7817,"lat0":47.8904,"lat1":47.9075,"v":11},{"lon0":106.7817,"lon1":106.8058,"lat0":47.8904,"lat1":47.9075,"v":11},{"lon0":106.8058,"lon1":106.83,"lat0":47.8904,"lat1":47.9075,"v":17},{"lon0":106.83,"lon1":106.8542,"lat0":47.8904,"lat1":47.9075,"v":32},{"lon0":106.8542,"lon1":106.8783,"lat0":47.8904,"lat1":47.9075,"v":48},{"lon0":106.8783,"lon1":106.9025,"lat0":47.8904,"lat1":47.9075,"v":54},{"lon0":106.9025,"lon1":106.9267,"lat0":47.8904,"lat1":47.9075,"v":47},{"lon0":106.9267,"lon1":106.9508,"lat0":47.8904,"lat1":47.9075,"v":32},{"lon0":106.9508,"lon1":106.975,"lat0":47.8904,"lat1":47.9075,"v":17},{"lon0":106.975,"lon1":106.9992,"lat0":47.8904,"lat1":47.9075,"v":11},{"lon0":106.9992,"lon1":107.0233,"lat0":47.8904,"lat1":47.9075,"v":9},
{"lon0":106.7333,"lon1":106.7575,"lat0":47.8734,"lat1":47.8904,"v":5},{"lon0":106.7575,"lon1":106.7817,"lat0":47.8734,"lat1":47.8904,"v":11},{"lon0":106.7817,"lon1":106.8058,"lat0":47.8734,"lat1":47.8904,"v":11},{"lon0":106.8058,"lon1":106.83,"lat0":47.8734,"lat1":47.8904,"v":17},{"lon0":106.83,"lon1":106.8542,"lat0":47.8734,"lat1":47.8904,"v":31},{"lon0":106.8542,"lon1":106.8783,"lat0":47.8734,"lat1":47.8904,"v":42},{"lon0":106.8783,"lon1":106.9025,"lat0":47.8734,"lat1":47.8904,"v":47},{"lon0":106.9025,"lon1":106.9267,"lat0":47.8734,"lat1":47.8904,"v":42},{"lon0":106.9267,"lon1":106.9508,"lat0":47.8734,"lat1":47.8904,"v":31},{"lon0":106.9508,"lon1":106.975,"lat0":47.8734,"lat1":47.8904,"v":15},{"lon0":106.975,"lon1":106.9992,"lat0":47.8734,"lat1":47.8904,"v":6},{"lon0":106.9992,"lon1":107.0233,"lat0":47.8734,"lat1":47.8904,"v":5},
{"lon0":106.7333,"lon1":106.7575,"lat0":47.8563,"lat1":47.8734,"v":5},{"lon0":106.7575,"lon1":106.7817,"lat0":47.8563,"lat1":47.8734,"v":3},{"lon0":106.7817,"lon1":106.8058,"lat0":47.8563,"lat1":47.8734,"v":11},{"lon0":106.8058,"lon1":106.83,"lat0":47.8563,"lat1":47.8734,"v":12},{"lon0":106.83,"lon1":106.8542,"lat0":47.8563,"lat1":47.8734,"v":18},{"lon0":106.8542,"lon1":106.8783,"lat0":47.8563,"lat1":47.8734,"v":21},{"lon0":106.8783,"lon1":106.9025,"lat0":47.8563,"lat1":47.8734,"v":24},{"lon0":106.9025,"lon1":106.9267,"lat0":47.8563,"lat1":47.8734,"v":20},{"lon0":106.9267,"lon1":106.9508,"lat0":47.8563,"lat1":47.8734,"v":15},{"lon0":106.9508,"lon1":106.975,"lat0":47.8563,"lat1":47.8734,"v":11},{"lon0":106.975,"lon1":106.9992,"lat0":47.8563,"lat1":47.8734,"v":8},{"lon0":106.9992,"lon1":107.0233,"lat0":47.8563,"lat1":47.8734,"v":6},
{"lon0":106.7333,"lon1":106.7575,"lat0":47.8392,"lat1":47.8563,"v":5},{"lon0":106.7575,"lon1":106.7817,"lat0":47.8392,"lat1":47.8563,"v":5},{"lon0":106.7817,"lon1":106.8058,"lat0":47.8392,"lat1":47.8563,"v":6},{"lon0":106.8058,"lon1":106.83,"lat0":47.8392,"lat1":47.8563,"v":8},{"lon0":106.83,"lon1":106.8542,"lat0":47.8392,"lat1":47.8563,"v":8},{"lon0":106.8542,"lon1":106.8783,"lat0":47.8392,"lat1":47.8563,"v":11},{"lon0":106.8783,"lon1":106.9025,"lat0":47.8392,"lat1":47.8563,"v":16},{"lon0":106.9025,"lon1":106.9267,"lat0":47.8392,"lat1":47.8563,"v":8},{"lon0":106.9267,"lon1":106.9508,"lat0":47.8392,"lat1":47.8563,"v":6},{"lon0":106.9508,"lon1":106.975,"lat0":47.8392,"lat1":47.8563,"v":4},{"lon0":106.975,"lon1":106.9992,"lat0":47.8392,"lat1":47.8563,"v":5},{"lon0":106.9992,"lon1":107.0233,"lat0":47.8392,"lat1":47.8563,"v":5}
]},
"mark": {"type": "rect", "clip": true},
"encoding": {
"x": {"field": "lon0", "type": "quantitative", "scale": {"domain": [106.7333, 107.0233], "nice": false, "zero": false}, "axis": {"values": [106.75, 106.8, 106.85, 106.9, 106.95, 107.0], "format": ".2f", "title": "Longitude (°E)"}},
"x2": {"field": "lon1"},
"y": {"field": "lat0", "type": "quantitative", "scale": {"domain": [47.8392, 47.9587], "nice": false, "zero": false}, "axis": {"values": [47.84, 47.86, 47.88, 47.9, 47.92, 47.94], "format": ".2f", "title": "Latitude (°N)"}},
"y2": {"field": "lat1"},
"color": {"field": "v", "type": "quantitative", "scale": {"domain": [0, 10.6375, 21.275, 31.9125, 42.55, 53.1875, 63.825, 74.4625, 85.1], "range": ["#ffffcc", "#ffeda0", "#fed976", "#feb24c", "#fd8d3c", "#fc4e2a", "#e31a1c", "#bd0026", "#800026"], "interpolate": "rgb"}, "legend": {"type": "gradient", "direction": "vertical", "title": "Heat Load Density (MW/km²)", "values": [0, 10, 20, 30, 40, 50, 60, 70, 80], "labelOffset": 13, "labelBaseline": "middle", "encode": {"title": {"update": {"angle": {"value": 270}, "baseline": {"value": "top"}}}}}}
}
}
],
"resolve": {"scale": {"color": "shared"}},
"config": {
"font": "DejaVu Sans",
"view": {"stroke": "#333333", "strokeWidth": 1},
"axis": {"labelFontSize": 15, "labelColor": "#000000", "titleFontSize": 15.5, "titleFontWeight": "normal", "titleColor": "#000000", "tickSize": 5.5, "tickColor": "#000000", "domain": false, "grid": true, "gridColor": "#888888", "gridOpacity": 0.5, "gridDash": [5, 3], "labelPadding": 7.5, "titlePadding": 8, "zindex": 1},
"title": {"fontSize": 16.5, "fontWeight": "bold", "color": "#000000", "offset": 5, "anchor": "middle", "lineHeight": 20},
"legend": {"labelFontSize": 15, "labelColor": "#000000", "titleFontSize": 15.5, "titleFontWeight": "normal", "titleColor": "#000000", "titleLimit": 600, "gradientStrokeColor": "#444444", "gradientStrokeWidth": 0.8, "gradientLength": 407, "gradientThickness": 23, "padding": 16.6, "offset": 6.5, "titleOrient": "right", "titleAnchor": "middle", "titlePadding": 6}
}
}
